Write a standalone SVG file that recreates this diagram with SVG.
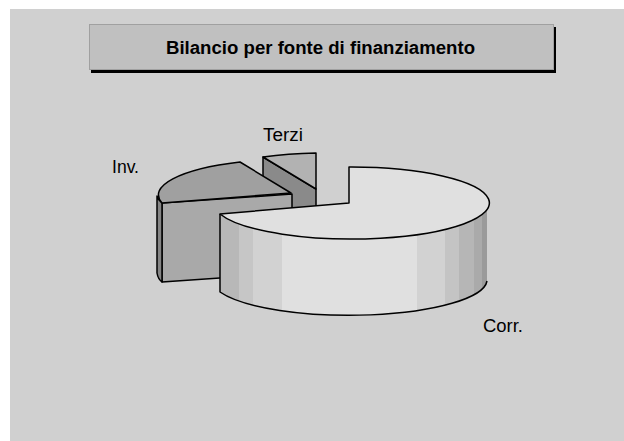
<svg xmlns="http://www.w3.org/2000/svg" width="624" height="441" viewBox="0 0 624 441">
<defs>
<style>
.edge{stroke:#000;stroke-width:1.5;stroke-linejoin:round}
.lbl{font-family:"Liberation Sans",Arial,sans-serif;font-size:18px;fill:#000}
.ttl{font-family:"Liberation Sans",Arial,sans-serif;font-size:18px;font-weight:bold;fill:#000}
</style>
<linearGradient id="corrWall" gradientUnits="userSpaceOnUse" x1="220" y1="0" x2="487" y2="0">
<stop offset="0" stop-color="#b8b8b8"/><stop offset="0.071" stop-color="#b8b8b8"/>
<stop offset="0.071" stop-color="#c6c6c6"/><stop offset="0.124" stop-color="#c6c6c6"/>
<stop offset="0.124" stop-color="#d2d2d2"/><stop offset="0.232" stop-color="#d2d2d2"/>
<stop offset="0.232" stop-color="#e0e0e0"/><stop offset="0.738" stop-color="#e0e0e0"/>
<stop offset="0.738" stop-color="#d2d2d2"/><stop offset="0.843" stop-color="#d2d2d2"/>
<stop offset="0.843" stop-color="#c4c4c4"/><stop offset="0.895" stop-color="#c4c4c4"/>
<stop offset="0.895" stop-color="#b6b6b6"/><stop offset="0.951" stop-color="#b6b6b6"/>
<stop offset="0.951" stop-color="#aaaaaa"/><stop offset="0.981" stop-color="#aaaaaa"/>
<stop offset="0.981" stop-color="#9a9a9a"/><stop offset="1" stop-color="#9a9a9a"/>
</linearGradient>
</defs>
<rect x="0" y="0" width="624" height="441" fill="#ffffff"/>
<rect x="10" y="9" width="614" height="432" fill="#d0d0d0"/>

<g id="title">
<rect x="91" y="27" width="465" height="46" fill="#000"/>
<rect x="89.5" y="24.5" width="464" height="45" fill="#c0c0c0" stroke="#a0a0a0" stroke-width="1"/>
<text class="ttl" x="166" y="54" textLength="309" lengthAdjust="spacingAndGlyphs">Bilancio per fonte di finanziamento</text>
</g>

<g id="slice-terzi">
<path d="M263,157 L316,189 L316,267 L263,235 Z" fill="#8a8a8a" class="edge"/>
<path d="M316,189 L316,153 A138 36 0 0 0 263,157 Z" fill="#b2b2b2" class="edge"/>
</g>

<g id="slice-inv">
<path d="M162,203 L292,194 L292,273 L162,282 Z" fill="#a9a9a9" class="edge"/>
<path d="M157,196 Q158,200 162,203 L162,282 Q158,279 157,273 Z" fill="#858585" class="edge"/>
<path d="M291,193 L240,162 A138 36 0 0 0 162,203 Z" fill="#a0a0a0" class="edge"/>
</g>

<g id="slice-corr">
<path d="M487,203 A138 36 0 0 1 220,214 L220,292 A138 36 0 0 0 487,281 Z" fill="url(#corrWall)"/>
<path d="M220,214 L220,292 A138 36 0 0 0 487,281" fill="none" class="edge"/>
<path d="M349,203 L349,167 A138 36 0 1 1 220,214 Z" fill="#e0e0e0" class="edge"/>
</g>

<g id="connectors"/>

<g id="labels">
<text class="lbl" x="263" y="141" textLength="40" lengthAdjust="spacingAndGlyphs">Terzi</text>
<text class="lbl" x="112" y="173" textLength="27" lengthAdjust="spacingAndGlyphs">Inv.</text>
<text class="lbl" x="483" y="332" textLength="40" lengthAdjust="spacingAndGlyphs">Corr.</text>
</g>
</svg>
